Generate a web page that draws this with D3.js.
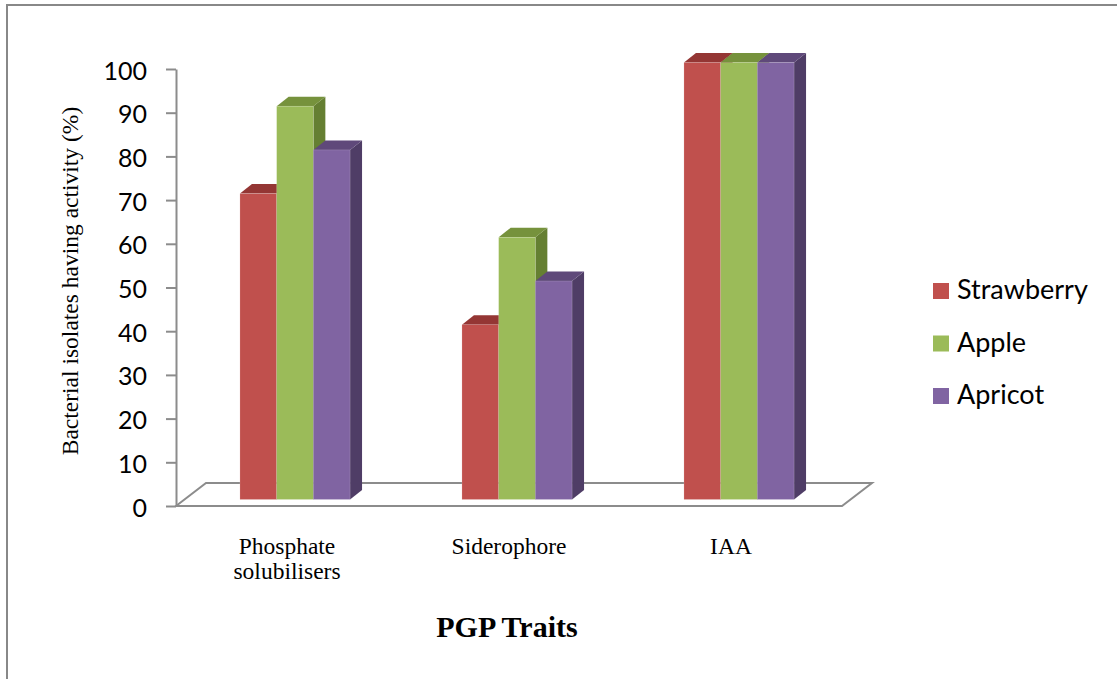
<!DOCTYPE html>
<html>
<head>
<meta charset="utf-8">
<script src="https://cdn.jsdelivr.net/npm/d3@7"></script>
<style>
  html, body { margin: 0; padding: 0; background: #fff; }
  svg { display: block; }
</style>
</head>
<body>
<div id="chart"></div>
<script>
const categories = ["Phosphate solubilisers", "Siderophore", "IAA"];
const categoryLines = [["Phosphate", "solubilisers"], ["Siderophore"], ["IAA"]];
const seriesNames = ["Strawberry", "Apple", "Apricot"];
const strawberry = [70, 40, 100];
const apple = [90, 60, 100];
const apricot = [80, 50, 100];
const yTicks = [0, 10, 20, 30, 40, 50, 60, 70, 80, 90, 100];

const width = 1117;
const height = 679;

// front, top, side shades per series
const COLORS = {
  Strawberry: { front: "#c0504d", top: "#943634", side: "#7f2f2d" },
  Apple: { front: "#9bbb59", top: "#76923c", side: "#657f32" },
  Apricot: { front: "#8064a2", top: "#5f497a", side: "#4f3d66" }
};

const FLOOR = { LEFT: 176, RIGHT: 842, FRONT: 506, DX: 30, DY: -23 };
const BAR = { W: 36.7, DX: 12, DY: -9.5, OFFX: 8, OFFY: -6.5 };

const svg = d3.select("#chart")
  .append("svg")
  .attr("width", width)
  .attr("height", height)
  .attr("viewBox", [0, 0, width, height]);

// outer frame (only left and top visible)
svg.append("path")
  .attr("d", "M7," + height + "V5H" + width)
  .attr("fill", "none")
  .attr("stroke", "#888")
  .attr("stroke-width", 2);

let x = d3.scaleBand()
  .domain(categories)
  .range([FLOOR.LEFT, FLOOR.RIGHT]);

let xInner = d3.scaleBand()
  .domain(seriesNames)
  .range([0, BAR.W * seriesNames.length]);

let y = d3.scaleLinear()
  .domain([0, 100])
  .range([FLOOR.FRONT, 69]);

// floor
svg.append("path")
  .attr("d", "M" + FLOOR.LEFT + "," + FLOOR.FRONT +
    "L" + (FLOOR.LEFT + FLOOR.DX) + "," + (FLOOR.FRONT + FLOOR.DY) +
    "L" + (FLOOR.RIGHT + FLOOR.DX) + "," + (FLOOR.FRONT + FLOOR.DY) +
    "L" + FLOOR.RIGHT + "," + FLOOR.FRONT + "Z")
  .attr("fill", "none")
  .attr("stroke", "#8c8c8c")
  .attr("stroke-width", 2);

// Y axis
let yAxis = svg.append("g")
  .attr("transform", "translate(" + FLOOR.LEFT + ",0)")
  .call(d3.axisLeft(y).tickValues(yTicks).tickSize(10).tickSizeOuter(0).tickPadding(19));
yAxis.select(".domain").attr("stroke", "#8c8c8c").attr("stroke-width", 2);
yAxis.selectAll(".tick line").attr("stroke", "#8c8c8c").attr("stroke-width", 2);
yAxis.selectAll(".tick text")
  .attr("fill", "#000")
  .attr("dy", "0.4em")
  .style("font-family", "Lato, 'Open Sans', sans-serif")
  .style("font-size", "25px");

// bars
const values = { Strawberry: strawberry, Apple: apple, Apricot: apricot };
let bars = [];
categories.forEach((c, ci) => {
  seriesNames.forEach(s => {
    bars.push({ cat: c, series: s, value: values[s][ci] });
  });
});

let barG = svg.append("g");
bars.forEach(d => {
  let groupW = BAR.W * seriesNames.length;
  let x0 = x(d.cat) + (x.bandwidth() - groupW) / 2 + xInner(d.series) + BAR.OFFX;
  let x1 = x0 + BAR.W;
  let yb = y(0) + BAR.OFFY;
  let yt = y(d.value) + BAR.OFFY;
  let c = COLORS[d.series];
  // side
  barG.append("path")
    .attr("d", "M" + x1 + "," + yb + "L" + (x1 + BAR.DX) + "," + (yb + BAR.DY) +
      "L" + (x1 + BAR.DX) + "," + (yt + BAR.DY) + "L" + x1 + "," + yt + "Z")
    .attr("fill", c.side);
  // top
  barG.append("path")
    .attr("d", "M" + x0 + "," + yt + "L" + (x0 + BAR.DX) + "," + (yt + BAR.DY) +
      "L" + (x1 + BAR.DX) + "," + (yt + BAR.DY) + "L" + x1 + "," + yt + "Z")
    .attr("fill", c.top);
  // front
  barG.append("rect")
    .attr("x", x0)
    .attr("y", yt)
    .attr("width", BAR.W)
    .attr("height", yb - yt)
    .attr("fill", c.front)
    .attr("stroke", "rgba(255,255,255,0.25)")
    .attr("stroke-width", 0.6);
});

// category labels
categories.forEach((c, ci) => {
  let t = svg.append("text")
    .attr("x", x(c) + x.bandwidth() / 2)
    .attr("y", 554)
    .attr("text-anchor", "middle")
    .style("font-family", "'Liberation Serif', 'Times New Roman', serif")
    .style("font-size", "23.5px")
    .attr("fill", "#000");
  categoryLines[ci].forEach((line, li) => {
    t.append("tspan")
      .attr("x", x(c) + x.bandwidth() / 2)
      .attr("dy", li === 0 ? 0 : 25)
      .text(line);
  });
});

// axis titles
svg.append("text")
  .attr("x", 507)
  .attr("y", 637)
  .attr("text-anchor", "middle")
  .style("font-family", "'Liberation Serif', 'Times New Roman', serif")
  .style("font-size", "30px")
  .style("font-weight", "bold")
  .text("PGP Traits");

svg.append("text")
  .attr("transform", "translate(78,281) rotate(-90)")
  .attr("text-anchor", "middle")
  .style("font-family", "'Liberation Serif', 'Times New Roman', serif")
  .style("font-size", "23.5px")
  .text("Bacterial isolates having activity (%)");

// legend
let legend = svg.append("g")
  .selectAll("g")
  .data(seriesNames)
  .enter()
  .append("g")
  .attr("transform", (d, i) => "translate(933," + (283 + i * 52.5) + ")");
legend.append("rect")
  .attr("width", 16)
  .attr("height", 16)
  .attr("fill", d => COLORS[d].front);
legend.append("text")
  .attr("x", 24)
  .attr("y", 16)
  .style("font-family", "Lato, 'Open Sans', sans-serif")
  .style("font-size", "27px")
  .text(d => d);
</script>
</body>
</html>
